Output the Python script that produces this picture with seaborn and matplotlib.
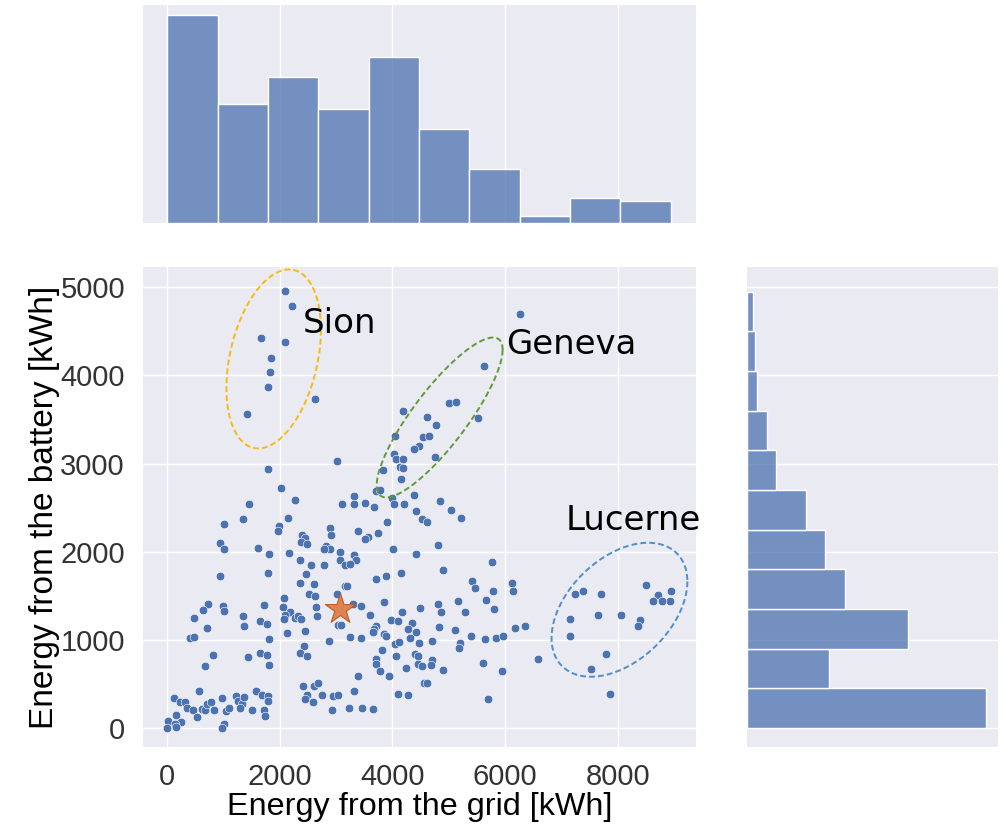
import numpy as np
import matplotlib
matplotlib.use("Agg")
import matplotlib.pyplot as plt
import seaborn as sns

# ---------------- data ----------------
grid_kwh = [
    2090, 2210, 1660, 2090, 1850, 1830, 1790, 2630, 1420, 4190, 4620, 4780, 4050, 4550, 4650,
    4470, 4380, 4030, 4070, 4190, 4750, 3010, 1790, 4130, 4180, 3840, 4150, 2020, 3710, 3780,
    4380, 3320, 2270, 1450, 3100, 3320, 3510, 3670, 3990, 4030, 4200, 4840, 4420, 6260, 5630,
    5000, 5130, 5510, 5040, 1010, 1340, 1990, 1960, 2140, 2890, 2910, 2400, 2450, 2380, 2480,
    3390, 3560, 3520, 3740, 3900, 4520, 4610, 4810, 940, 1000, 1620, 1810, 2160, 2350, 2820,
    2890, 2790, 3060, 3320, 3360, 3060, 3150, 3250, 2560, 2790, 4010, 4420, 4900, 930, 1790,
    2470, 2350, 2610, 3710, 3880, 4150, 3160, 3200, 2510, 2630, 3010, 2080, 730, 630, 990,
    1010, 1710, 2050, 2180, 2640, 3300, 3450, 3850, 4490, 4810, 4870, 4170, 470, 1340, 2090,
    2080, 2270, 2320, 2370, 2660, 3600, 3970, 4090, 4340, 710, 1370, 1650, 1780, 3040, 3080,
    3700, 3680, 3650, 4280, 4420, 4320, 4830, 2120, 2450, 3850, 3880, 410, 480, 1810, 2870,
    3240, 3450, 4040, 4120, 4470, 4710, 2430, 3810, 820, 1640, 1780, 1430, 2360, 2490, 4070,
    4400, 4450, 3700, 3710, 4710, 670, 1800, 3390, 3770, 3930, 4240, 4450, 4520, 4680, 4900,
    4560, 4620, 2420, 2610, 2670, 560, 1570, 1680, 3320, 4100, 4280, 120, 220, 310, 350,
    460, 620, 670, 700, 770, 980, 830, 1050, 1100, 1220, 1260, 1330, 1370, 1290, 1510,
    1790, 1790, 1720, 1730, 2480, 2450, 2580, 2750, 2940, 3030, 2930, 3220, 3460, 3650, 160,
    20, 240, 130, 160, 5, 530, 1000, 980, 5220, 5770, 5420, 5460, 6120, 6140, 5790,
    5660, 5810, 5160, 5280, 5110, 6170, 6360, 5390, 5650, 5840, 5970, 5200, 5190, 5610, 5940,
    6580, 5700, 8500, 7240, 7390, 7700, 8710, 8630, 8790, 8930, 8950, 7160, 7650, 8050, 8390,
    8360, 7150, 7790, 7520, 7860,
]
battery_kwh = [
    4960, 4790, 4430, 4380, 4200, 4040, 3870, 3730, 3560, 3600, 3530, 3440, 3310, 3300, 3310,
    3200, 3160, 3110, 3050, 3050, 3080, 3030, 2940, 2960, 2950, 2930, 2820, 2720, 2690, 2700,
    2640, 2630, 2590, 2540, 2540, 2540, 2550, 2510, 2610, 2540, 2540, 2570, 2460, 4700, 4110,
    3690, 3700, 3520, 2470, 2310, 2370, 2290, 2240, 2380, 2270, 2190, 2190, 2160, 2110, 2090,
    2230, 2170, 2150, 2210, 2340, 2370, 2340, 2080, 2100, 2030, 2040, 1980, 1990, 1910, 2060,
    2030, 2030, 2000, 1960, 1910, 1910, 1850, 1860, 1850, 1850, 2030, 1970, 1790, 1720, 1760,
    1750, 1650, 1630, 1690, 1720, 1760, 1610, 1610, 1520, 1500, 1520, 1480, 1410, 1340, 1390,
    1330, 1400, 1370, 1320, 1370, 1410, 1380, 1430, 1360, 1410, 1320, 1320, 1250, 1270, 1280,
    1240, 1250, 1270, 1240, 1270, 1280, 1220, 1210, 1190, 1140, 1160, 1210, 1180, 1170, 1170,
    1160, 1120, 1090, 1120, 1090, 1020, 1150, 1080, 1100, 1070, 1040, 1020, 1030, 1010, 990,
    1030, 1020, 950, 980, 960, 990, 930, 880, 830, 850, 830, 810, 850, 820, 820,
    840, 820, 780, 730, 770, 700, 710, 590, 650, 590, 680, 730, 700, 710, 660,
    510, 510, 480, 480, 510, 420, 420, 380, 420, 390, 370, 340, 290, 300, 230,
    200, 220, 200, 270, 300, 340, 200, 190, 230, 360, 310, 270, 350, 230, 200,
    360, 310, 210, 140, 380, 330, 290, 370, 360, 380, 200, 230, 230, 220, 150,
    80, 70, 50, 15, 0, 120, 50, 0, 2380, 1880, 1670, 1590, 1650, 1560, 1550,
    1450, 1350, 1440, 1320, 1110, 1130, 1160, 1040, 1010, 1020, 1040, 960, 910, 740, 650,
    780, 330, 1620, 1520, 1550, 1520, 1510, 1440, 1440, 1440, 1550, 1240, 1280, 1280, 1220,
    1160, 1040, 840, 670, 390,
]

# highlighted reference municipality (star)
star_grid = [3070]
star_battery = [1345]

# marginal histograms (bin edges and counts)
grid_bin_edges = [0, 894, 1788, 2682, 3576, 4470, 5364, 6258, 7152, 8046, 8940]
grid_bin_counts = [84, 48, 59, 46, 67, 38, 22, 3, 10, 9]
battery_bin_edges = [0, 450, 900, 1350, 1800, 2250, 2700, 3150, 3600, 4050, 4500, 4950]
battery_bin_counts = [117, 40, 79, 48, 38, 29, 14, 10, 5, 4, 3]

# cluster annotations
cluster_names = ["Sion", "Geneva", "Lucerne"]
cluster_label_pos = [(2410, 4480), (6010, 4240), (7080, 2250)]
cluster_colors = ["#F6BB10", "#64983A", "#4F8FCB"]
# ellipse: centre x, centre y, half-extent x, half-extent y, phase (deg)
cluster_ellipses = [(1890, 4187, 839, 1015, 71),
                    (4838, 3523, 1118, 907, 32),
                    (8031, 1342, 1206, 760, 65)]

# ---------------- styling ----------------
sns.set_theme(style="darkgrid")
plt.rcParams["font.family"] = ["Liberation Sans", "DejaVu Sans"]

W, H = 1006, 826
fig = plt.figure(figsize=(W / 100, H / 100), dpi=100)

def box(l, t, r, b):
    return [l / W, 1 - b / H, (r - l) / W, (b - t) / H]

ax = fig.add_axes(box(143, 267, 696, 747))
ax_top = fig.add_axes(box(143, 5, 696, 223), sharex=ax)
ax_right = fig.add_axes(box(747, 267, 998, 747), sharey=ax)

blue = "#4C72B0"

sns.scatterplot(x=grid_kwh, y=battery_kwh, ax=ax, color=blue, s=38,
                edgecolor="white", linewidth=0.4, zorder=3)
sns.scatterplot(x=star_grid, y=star_battery, ax=ax, color="#DD8452", marker="*",
                s=520, edgecolor="#B85F2A", linewidth=0.8, zorder=4)

# marginals
grid_centers = [(a + b) / 2 for a, b in zip(grid_bin_edges[:-1], grid_bin_edges[1:])]
bat_centers = [(a + b) / 2 for a, b in zip(battery_bin_edges[:-1], battery_bin_edges[1:])]
sns.histplot(x=grid_centers, weights=grid_bin_counts, bins=grid_bin_edges, ax=ax_top,
             color=blue, edgecolor="white", linewidth=1.0)
sns.histplot(y=bat_centers, weights=battery_bin_counts, bins=battery_bin_edges, ax=ax_right,
             color=blue, edgecolor="white", linewidth=1.0)

# ellipses and labels
t = np.linspace(0, 2 * np.pi, 300)
for name, (lx, ly), col, (cx, cy, ax_x, ax_y, ph) in zip(cluster_names, cluster_label_pos,
                                                       cluster_colors, cluster_ellipses):
    phr = np.deg2rad(ph)
    ax.plot(cx + ax_x * np.cos(t), cy + ax_y * np.cos(t + phr), color=col,
            linestyle=(0, (3, 1.6)), linewidth=1.4, zorder=5)
    ax.text(lx, ly, name, fontsize=24.5, family=["DejaVu Sans"], color="black",
            ha="left", va="baseline", zorder=6)

ax.set_xlim(-430, 9390)
ax.set_ylim(-215, 5230)
ax.set_xticks([0, 2000, 4000, 6000, 8000])
ax.set_yticks([0, 1000, 2000, 3000, 4000, 5000])
ax.tick_params(labelsize=21, colors="#333333")
ax.tick_params(axis="x", pad=5.5)
ax.tick_params(axis="y", pad=7)
ax.set_xlabel("Energy from the grid [kWh]", fontsize=23.3, labelpad=1, color="black")
ax.set_ylabel("Energy from the battery [kWh]", fontsize=24, labelpad=0.5, color="black")

ax_top.set_ylim(0, max(grid_bin_counts) * 1.05)
ax_right.set_xlim(0, max(battery_bin_counts) * 1.05)
ax_top.tick_params(labelbottom=False, labelleft=False, length=0)
ax_top.yaxis.grid(False)
ax_top.set_xlabel("")
ax_top.set_ylabel("")
ax_right.tick_params(labelbottom=False, labelleft=False, length=0)
ax_right.xaxis.grid(False)
ax_right.set_xlabel("")
ax_right.set_ylabel("")
for a in (ax, ax_top, ax_right):
    for s in a.spines.values():
        s.set_visible(False)

fig.savefig("out.png", dpi=100)
